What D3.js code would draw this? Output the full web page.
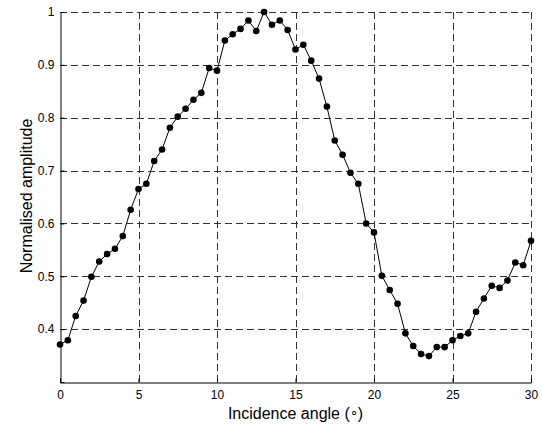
<!DOCTYPE html>
<html><head><meta charset="utf-8">
<script src="https://cdn.jsdelivr.net/npm/d3@7"></script>
<style>body{margin:0;background:#fff}svg{display:block}text{font-family:"Liberation Sans",Arial,sans-serif}</style>
</head><body><svg id="c" width="542" height="426"></svg>
<script>
const angles = d3.range(0, 30.01, 0.5);
const amplitude = [0.371,0.379,0.425,0.454,0.499,0.528,0.542,0.552,0.576,0.626,0.665,0.675,
0.718,0.740,0.781,0.802,0.817,0.834,0.847,0.894,0.889,0.946,0.958,0.968,0.984,0.964,1.0,
0.976,0.984,0.966,0.929,0.938,0.908,0.874,0.821,0.757,0.730,0.696,0.675,0.600,0.583,
0.501,0.474,0.448,0.392,0.368,0.353,0.349,0.366,0.366,0.379,0.387,0.392,0.433,0.458,
0.482,0.478,0.492,0.526,0.521,0.567];
const xTicks = [0,5,10,15,20,25,30];
const yTicks = [0.4,0.5,0.6,0.7,0.8,0.9,1];

const svg = d3.select("#c");
const x = d3.scaleLinear().domain([0,30]).range([60,531]);
const y = d3.scaleLinear().domain([0.3,1]).range([382,12]);

// grid
svg.append("g").selectAll("line").data(xTicks.filter(d=>d>0)).join("line")
  .attr("x1",d=>Math.round(x(d))+0.5).attr("x2",d=>Math.round(x(d))+0.5).attr("y1",y(0.3)).attr("y2",y(1))
  .attr("stroke","#333").attr("stroke-width",1).attr("stroke-dasharray","7,4");
svg.append("g").selectAll("line").data(yTicks).join("line")
  .attr("y1",d=>Math.round(y(d))+0.5).attr("y2",d=>Math.round(y(d))+0.5).attr("x1",x(0)).attr("x2",x(30))
  .attr("stroke","#333").attr("stroke-width",1).attr("stroke-dasharray","7,4");

// axes
const xa = svg.append("g").attr("transform",`translate(0,${Math.round(y(0.3))+0.5})`)
  .call(d3.axisBottom(x).tickValues(xTicks).tickSize(-4).tickPadding(8).tickFormat(d3.format("d")));
const ya = svg.append("g").attr("transform",`translate(${x(0)+0.5},0)`)
  .call(d3.axisLeft(y).tickValues(yTicks).tickSize(-4).tickPadding(6).tickFormat(d=>d===1?"1":d3.format(".1f")(d)));
[xa,ya].forEach(a=>{a.select(".domain").attr("stroke","#000");
  a.selectAll("text").attr("font-size",12).attr("fill","#000").attr("font-family","Liberation Sans, Arial, sans-serif");
  a.selectAll(".tick line").attr("stroke","#000");});

// line + markers
const pts = angles.map((a,i)=>[a,amplitude[i]]);
svg.append("path").datum(pts).attr("fill","none").attr("stroke","#000").attr("stroke-width",1)
  .attr("d",d3.line().x(d=>x(d[0])).y(d=>y(d[1])));
svg.append("g").selectAll("circle").data(pts).join("circle")
  .attr("cx",d=>x(d[0])).attr("cy",d=>y(d[1])).attr("r",3.3).attr("fill","#000");

const xl = svg.append("text").attr("x",(x(0)+x(30))/2).attr("y",419).attr("text-anchor","middle")
  .attr("font-size",16);
xl.append("tspan").text("Incidence angle (");
xl.append("tspan").attr("font-size",13).attr("dy",-3).text("\u2218");
xl.append("tspan").attr("dy",3).text(")");
svg.append("text").attr("transform",`translate(32,196) rotate(-90)`).attr("text-anchor","middle")
  .attr("font-size",16).text("Normalised amplitude");
</script></body></html>
